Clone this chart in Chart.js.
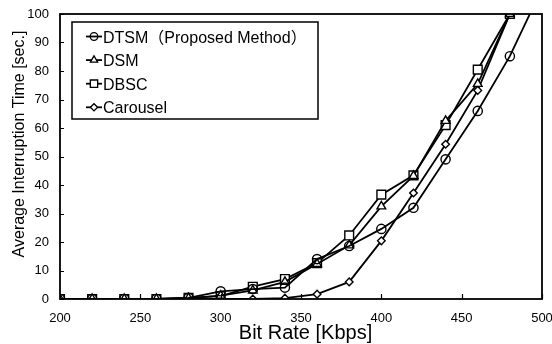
<!DOCTYPE html>
<html><head><meta charset="utf-8">
<script src="https://cdn.jsdelivr.net/npm/chart.js@4/dist/chart.umd.min.js"></script>
<style>html,body{margin:0;padding:0;background:#fff}canvas{display:block}</style>
</head><body>
<canvas id="c" width="552" height="344"></canvas>
<script>
// Bit rates (Kbps) and average interruption time (sec.) for each scheme
const bitRates = [200, 220, 240, 260, 280, 300, 320, 340, 360, 380, 400, 420, 440, 460, 480, 500];
const dtsm     = [0, 0, 0, 0, 0.4, 2.7, 3.5, 4.0, 14.0, 18.6, 24.6, 32.0, 49.0, 66.0, 85.2, 109];
const dsm      = [0, 0, 0, 0, 0.3, 1.2, 3.0, 6.0, 12.3, 18.8, 32.5, 43.2, 62.5, 75.5, 100, null];
const dbsc     = [0, 0, 0, 0, 0.4, 1.0, 4.3, 7.0, 12.6, 22.3, 36.6, 43.4, 61.0, 80.5, 100, null];
const carousel = [0, 0, 0, 0, 0, 0, 0, 0.3, 1.7, 6.0, 20.4, 37.2, 54.3, 73.2, 100, null];

const seriesNames = ['DTSM（Proposed Method）', 'DSM', 'DBSC', 'Carousel'];
const xTicks = [200, 250, 300, 350, 400, 450, 500];
const yTicks = [0, 10, 20, 30, 40, 50, 60, 70, 80, 90, 100];
const xTitle = 'Bit Rate [Kbps]';
const yTitle = 'Average Interruption Time [sec.]';

const FONT = '"Liberation Sans", Arial, "Noto Sans CJK JP", sans-serif';

function toPoints(values) {
  return bitRates.map((x, i) => ({ x: x, y: values[i] }));
}

const styles = [
  { pointStyle: 'circle',   radius: 4.6, legendRadius: 3.8, fill: 'rgba(0,0,0,0)' },
  { pointStyle: 'triangle', radius: 5.0, legendRadius: 4.2, fill: '#fff' },
  { pointStyle: 'rect',     radius: 6.2, legendRadius: 5.2, fill: '#fff' },
  { pointStyle: 'rectRot',  radius: 3.8, legendRadius: 3.6, fill: '#fff' }
];

const datasets = [dtsm, dsm, dbsc, carousel].map((vals, i) => ({
  label: seriesNames[i],
  data: toPoints(vals),
  borderColor: '#000',
  borderWidth: 1.8,
  pointStyle: styles[i].pointStyle,
  pointRadius: styles[i].radius,
  pointBorderColor: '#000',
  pointBorderWidth: 1.4,
  pointBackgroundColor: styles[i].fill,
  spanGaps: false,
  tension: 0
}));

// Frame, inward ticks, axis titles and boxed legend inside the plot
const decorations = {
  id: 'decorations',
  afterDraw(chart) {
    const ctx = chart.ctx;
    const a = chart.chartArea;
    const xs = chart.scales.x, ys = chart.scales.y;
    ctx.save();
    ctx.strokeStyle = '#000';
    ctx.lineWidth = 1.8;
    ctx.strokeRect(a.left, a.top, a.right - a.left, a.bottom - a.top);
    ctx.lineWidth = 1.2;
    ctx.beginPath();
    yTicks.forEach(v => {
      const y = Math.round(ys.getPixelForValue(v)) + 0.5;
      ctx.moveTo(a.left, y); ctx.lineTo(a.left + 4, y);
    });
    xTicks.forEach(v => {
      const x = Math.round(xs.getPixelForValue(v)) + 0.5;
      ctx.moveTo(x, a.bottom); ctx.lineTo(x, a.bottom - 5);
    });
    ctx.stroke();

    // axis titles
    ctx.fillStyle = '#000';
    ctx.textAlign = 'center';
    ctx.textBaseline = 'alphabetic';
    ctx.font = '20px ' + FONT;
    ctx.fillText(xTitle, 305.5, 339);
    ctx.save();
    ctx.translate(23.5, 144);
    ctx.rotate(-Math.PI / 2);
    ctx.font = '16px ' + FONT;
    ctx.fillText(yTitle, 0, 0);
    ctx.restore();

    // legend
    const lx = 72, ly = 22, lw = 246, lh = 97;
    ctx.fillStyle = '#fff';
    ctx.fillRect(lx, ly, lw, lh);
    ctx.lineWidth = 1.5;
    ctx.strokeStyle = '#000';
    ctx.strokeRect(lx, ly, lw, lh);
    ctx.font = '16px ' + FONT;
    ctx.textAlign = 'left';
    ctx.textBaseline = 'alphabetic';
    chart.data.datasets.forEach((ds, i) => {
      const cy = 36.5 + i * 23.6;
      ctx.lineWidth = 1.8;
      ctx.beginPath();
      ctx.moveTo(86, cy); ctx.lineTo(102, cy);
      ctx.stroke();
      ctx.lineWidth = 1.3;
      ctx.fillStyle = ds.pointBackgroundColor;
      Chart.helpers.drawPoint(ctx, { pointStyle: ds.pointStyle, radius: styles[i].legendRadius, borderWidth: 1.3, rotation: 0 }, 94, cy);
      ctx.fillStyle = '#000';
      ctx.fillText(ds.label, 103, cy + 6);
    });
    ctx.restore();
  }
};

new Chart(document.getElementById('c'), {
  type: 'line',
  data: { datasets: datasets },
  options: {
    responsive: false,
    devicePixelRatio: 1,
    animation: false,
    layout: { padding: { top: 14, right: 10, left: 0, bottom: 0 } },
    plugins: { legend: { display: false }, tooltip: { enabled: false } },
    scales: {
      x: {
        type: 'linear', min: 200, max: 500,
        afterBuildTicks: s => { s.ticks = xTicks.map(v => ({ value: v })); },
        afterFit: s => { s.height = 45; s.paddingLeft = 0; s.paddingRight = 0; },
        grid: { display: false, drawTicks: false },
        border: { display: false },
        ticks: { color: '#000', padding: 12, font: { family: FONT, size: 13 }, maxRotation: 0, autoSkip: false }
      },
      y: {
        type: 'linear', min: 0, max: 100,
        afterBuildTicks: s => { s.ticks = yTicks.map(v => ({ value: v })); },
        afterFit: s => { s.width = 60; s.paddingTop = 0; s.paddingBottom = 0; },
        grid: { display: false, drawTicks: false },
        border: { display: false },
        ticks: { color: '#000', padding: 11, font: { family: FONT, size: 13 } }
      }
    }
  },
  plugins: [decorations]
});
</script>
</body></html>
